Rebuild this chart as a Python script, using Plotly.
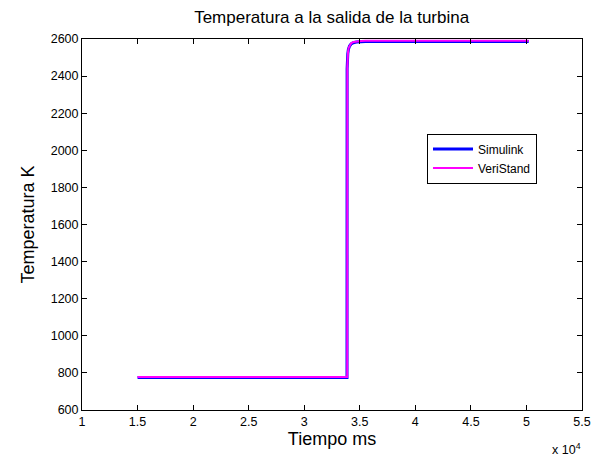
import plotly.graph_objects as go

# Turbine outlet temperature, time in ms
sim_time = [15000, 33850, 33860, 33880, 33920, 33980, 34080, 34220, 34420, 34700, 35100, 35500, 50200]
sim_temp = [775, 775, 2440, 2490, 2520, 2545, 2562, 2573, 2580, 2584, 2586, 2587, 2587]

ver_time = [15000, 33870, 33880, 33900, 33940, 34000, 34100, 34240, 34440, 34720, 35120, 35500, 50200]
ver_temp = [778, 778, 2450, 2500, 2530, 2553, 2568, 2578, 2584, 2587, 2589, 2590, 2590]

x_ticks = [10000, 15000, 20000, 25000, 30000, 35000, 40000, 45000, 50000, 55000]
x_tick_text = ["1", "1.5", "2", "2.5", "3", "3.5", "4", "4.5", "5", "5.5"]
y_ticks = [600, 800, 1000, 1200, 1400, 1600, 1800, 2000, 2200, 2400, 2600]

font_family = "Liberation Sans, Arial, sans-serif"

fig = go.Figure()
fig.add_trace(go.Scatter(x=sim_time, y=sim_temp, mode="lines", name="Simulink",
                         line=dict(color="#0000ff", width=3)))
fig.add_trace(go.Scatter(x=ver_time, y=ver_temp, mode="lines", name="VeriStand",
                         line=dict(color="#ff00ff", width=2)))

axis_common = dict(showline=True, linecolor="black", linewidth=1, mirror="ticks",
                   ticks="inside", ticklen=5, tickcolor="black", tickwidth=1,
                   showgrid=False, zeroline=False,
                   tickfont=dict(family=font_family, size=12.5, color="black"))

fig.update_xaxes(range=[10000, 55000], tickvals=x_ticks, ticktext=x_tick_text,
                 title=dict(text="Tiempo ms", font=dict(family=font_family, size=18, color="black"),
                            standoff=3),
                 **axis_common)
fig.update_yaxes(range=[600, 2600], tickvals=y_ticks, **axis_common)

fig.update_layout(
    width=603, height=459,
    margin=dict(l=82, r=21, t=39, b=49),
    paper_bgcolor="white", plot_bgcolor="white",
    title=dict(text="Temperatura a la salida de la turbina", x=0.55, xanchor="center",
               y=0.963, yanchor="middle",
               font=dict(family=font_family, size=17, color="black")),
    legend=dict(x=0.69, y=0.745, xanchor="left", yanchor="top",
                bordercolor="black", borderwidth=1, bgcolor="white",
                font=dict(family=font_family, size=12, color="black"),
                tracegroupgap=0, itemwidth=40),
    showlegend=True,
)

# y-axis title placed explicitly, rotated
fig.add_annotation(text="Temperatura K", xref="paper", yref="paper",
                   x=-0.11, y=0.5, xanchor="center", yanchor="middle", textangle=-90,
                   showarrow=False,
                   font=dict(family=font_family, size=18, color="black"))

fig.add_annotation(text="x 10<sup>4</sup>", xref="paper", yref="paper",
                   x=1.002, y=-0.078, xanchor="right", yanchor="top", showarrow=False,
                   font=dict(family=font_family, size=12.5, color="black"))

fig.write_html("out.html")
